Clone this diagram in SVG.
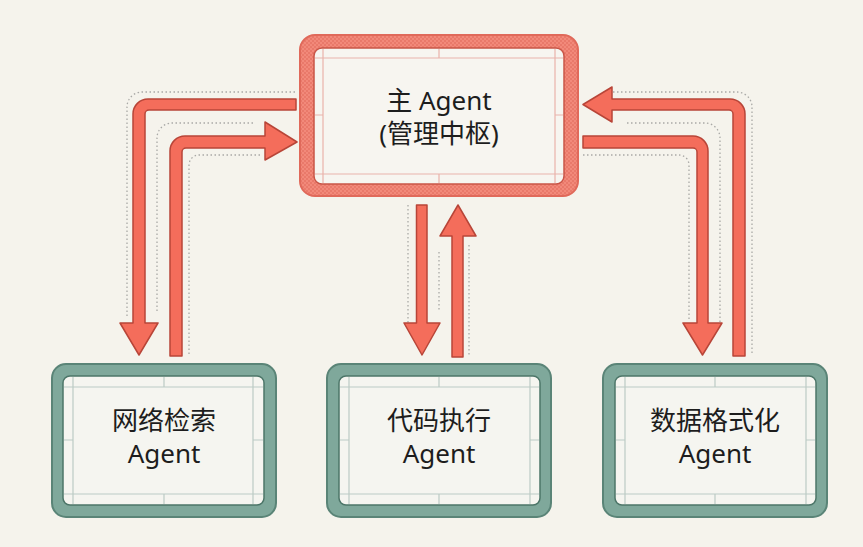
<svg xmlns="http://www.w3.org/2000/svg" width="863" height="547" viewBox="0 0 863 547">
<defs>
<pattern id="hatch" width="4" height="4" patternUnits="userSpaceOnUse">
<rect width="4" height="4" fill="#f2897a"/>
<rect width="2" height="2" fill="#e9796a"/>
<rect x="2" y="2" width="2" height="2" fill="#e9796a"/>
</pattern>
<style>
.bg{fill:#f5f3ec}
.arr{fill:#f46d5b;stroke:#b84538;stroke-width:1.5;stroke-linejoin:round}
.dot{fill:none;stroke:#a9a9a6;stroke-width:1.3;stroke-dasharray:1.5 2.5}
.mainOuter{fill:url(#hatch);stroke:#e0695a;stroke-width:2}
.mainInner{fill:#f7f5f0;stroke:#c95547;stroke-width:1.5}
.mguide{stroke:#e9b3ab;stroke-width:1.2;fill:none}
.tealOuter{fill:#7fa89b;stroke:#5a8477;stroke-width:2}
.tealInner{fill:#f5f5f0;stroke:#4c7568;stroke-width:1.5}
.tguide{stroke:#bccbc5;stroke-width:1.2;fill:none}
.lbl{font-family:"Noto Sans","Noto Sans CJK SC",sans-serif;font-size:26px;fill:#1d1d1d;text-anchor:middle}
</style>
</defs>
<rect class="bg" width="863" height="547"/>

<g id="connectors">
<path class="dot" d="M295,92 H142 A15,15 0 0 0 127,107 V318"/>
<path class="dot" d="M253,123 H172 A15,15 0 0 0 157,138 V312"/>
<path class="dot" d="M260,155 H199 A10,10 0 0 0 189,165 V355"/>
<path class="dot" d="M613,92 H737 A15,15 0 0 1 752,107 V355"/>
<path class="dot" d="M627,123 H705 A15,15 0 0 1 720,138 V322"/>
<path class="dot" d="M583,155 H679 A10,10 0 0 1 689,165 V320"/>
<path class="dot" d="M408,205 V323"/>
<path class="dot" d="M439,252 V312"/>
<path class="dot" d="M469,245 V355"/>

<path class="arr" d="M296,99 H148 A15,15 0 0 0 133,114 V323 H120 L139,355 L158,323 H145 V114 A4,4 0 0 1 149,110 H296 Z"/>
<path class="arr" d="M170,356 V151 A15,15 0 0 1 185,136 H265 V122 L297,142 L265,160 V148 H186 A4,4 0 0 0 182,152 V356 Z"/>
<path class="arr" d="M416.5,205 H427 V323 H440 L422,355 L404,323 H416.5 Z"/>
<path class="arr" d="M452,357 V236 H440 L458,205 L476,236 H463 V357 Z"/>
<path class="arr" d="M583,104.5 L612,87 V99 H730 A15,15 0 0 1 745,114 V356 H733 V114 A4,4 0 0 0 729,110 H612 V122 Z"/>
<path class="arr" d="M583,136 H693 A15,15 0 0 1 708,151 V323 H722 L702.5,355 L683,323 H697 V152 A4,4 0 0 0 693,148 H583 Z"/>
</g>

<g id="main">
<rect class="mainOuter" x="300" y="35" width="278" height="161" rx="15"/>
<rect class="mainInner" x="314" y="48" width="250" height="136" rx="8"/>
<path class="mguide" d="M315,58 H563 M315,174 H563 M323,49 V183 M555,49 V183 M439,49 V58 M439,174 V183 M315,115 H323 M555,115 H563"/>
<text class="lbl" x="439" y="110">主 Agent</text>
<text class="lbl" x="439" y="143">(管理中枢)</text>
</g>

<g id="search">
<rect class="tealOuter" x="52" y="364" width="224" height="153" rx="14"/>
<rect class="tealInner" x="63" y="376" width="201" height="129" rx="7"/>
<path class="tguide" d="M64,387 H263 M64,494 H263 M73,377 V504 M253,377 V504 M164,377 V387 M164,494 V504 M64,440 H73 M253,440 H263"/>
<text class="lbl" x="164" y="430">网络检索</text>
<text class="lbl" x="164" y="463">Agent</text>
</g>

<g id="code">
<rect class="tealOuter" x="327" y="364" width="224" height="153" rx="14"/>
<rect class="tealInner" x="339" y="376" width="201" height="129" rx="7"/>
<path class="tguide" d="M340,387 H539 M340,494 H539 M349,377 V504 M530,377 V504 M439,377 V387 M439,494 V504 M340,440 H349 M530,440 H539"/>
<text class="lbl" x="439" y="430">代码执行</text>
<text class="lbl" x="439" y="463">Agent</text>
</g>

<g id="format">
<rect class="tealOuter" x="603" y="364" width="224" height="153" rx="14"/>
<rect class="tealInner" x="615" y="376" width="201" height="129" rx="7"/>
<path class="tguide" d="M616,387 H815 M616,494 H815 M625,377 V504 M806,377 V504 M715,377 V387 M715,494 V504 M616,440 H625 M806,440 H815"/>
<text class="lbl" x="715" y="430">数据格式化</text>
<text class="lbl" x="715" y="463">Agent</text>
</g>
</svg>
